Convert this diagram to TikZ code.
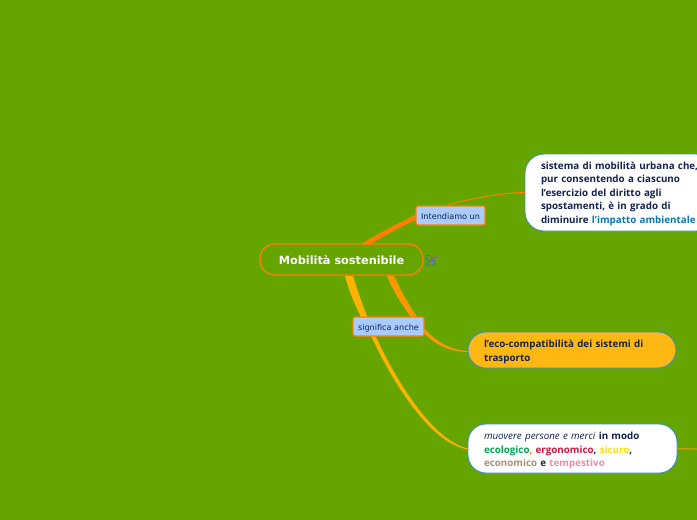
\documentclass[tikz,border=0pt]{standalone}
\usepackage{fontspec}
\setmainfont{Open Sans}
\newfontfamily\labelfont{DejaVu Sans}
\definecolor{bgc}{HTML}{66A500}
\definecolor{orgc}{HTML}{FF7F00}
\definecolor{org2}{HTML}{FF9800}
\definecolor{yelc}{HTML}{FFB300}
\definecolor{tbfill}{HTML}{FFB812}
\definecolor{olivec}{HTML}{C8A400}
\definecolor{lblue}{HTML}{A9CBFF}
\definecolor{nblue}{HTML}{3C8DC8}
\definecolor{navy}{HTML}{14234F}
\definecolor{lnkblue}{HTML}{0B78B4}
\definecolor{gr}{HTML}{00A651}
\definecolor{rd}{HTML}{D2123C}
\definecolor{ye}{HTML}{FFE000}
\definecolor{tan1}{HTML}{A98F6E}
\definecolor{pnk}{HTML}{F08CA0}
\definecolor{icona}{HTML}{4A6FC0}
\definecolor{iconb}{HTML}{A050C0}
\tikzset{
  x=1pt,y=-1pt,
  central/.style={draw=orgc,line width=1.3pt,rounded corners=15pt,minimum width=163pt,minimum height=31pt,inner sep=0pt,text=white,font=\labelfont\bfseries\fontsize{11.3}{14}\selectfont},
  lbl/.style={draw=orgc,fill=lblue,line width=1.1pt,rounded corners=2pt,inner sep=0pt,text=navy,font=\labelfont\fontsize{8.1}{10}\selectfont},
  topicbox/.style={draw=nblue,line width=0.9pt,inner sep=0pt,text=navy,align=left,font=\bfseries\fontsize{9.8}{13.6}\selectfont},
  thin conn/.style={line cap=round,fill=none}
}
\begin{document}
\begin{tikzpicture}
\useasboundingbox (0,0) rectangle (697,520);
\clip (0,0) rectangle (697,520);
\fill[bgc] (0,0) rectangle (697,520);
% tapered branches
\fill[orgc] (361,244) .. controls (377,234) and (397,224) .. (416,214.5) -- (418,219) .. controls (400,227) and (384,236) .. (369,245) -- cycle;
\fill[org2] (387,276) -- (394,276) .. controls (402,293) and (411,309) .. (420,321) -- (424,328) .. controls (436,342) and (450,350) .. (468,351) -- (468,352) .. controls (448,351.5) and (434,344) .. (422,331) -- (417,325) .. controls (406,310) and (395,296) .. (387,276) -- cycle;
\fill[yelc] (345,276) -- (353,276) .. controls (360,298) and (367,318) .. (376,337) .. controls (392,372) and (430,440) .. (468,448.5) -- (468,449.5) .. controls (428,443) and (390,376) .. (372,338) .. controls (360,316) and (351,298) .. (345,276) -- cycle;
% nodes
\node[central] (main) at (341.5,259.5) {\rule{0pt}{11pt}Mobilità sostenibile};
\node[lbl,minimum width=69pt,minimum height=19pt] (l1) at (450.5,215.5) {\rule{0pt}{8.5pt}Intendiamo un};
\node[lbl,minimum width=71pt,minimum height=19pt] (l2) at (388.5,326.5) {\rule{0pt}{10pt}significa anche};
\node[topicbox,fill=white,rounded corners=19pt,minimum width=190pt,minimum height=77pt,text width=158pt] (ta) at (620,192.5) {%
\rule{0pt}{10pt}sistema di mobilità urbana che,\\pur consentendo a ciascuno\\l'esercizio del diritto agli\\spostamenti, è in grado di\\diminuire \textcolor{lnkblue}{l'impatto ambientale}};
\node[topicbox,fill=tbfill,rounded corners=18pt,minimum width=208pt,minimum height=36pt,text width=176pt] (tb) at (572,350) {%
\rule{0pt}{11.5pt}l'eco-compatibilità dei sistemi di\\trasporto};
\node[topicbox,fill=white,rounded corners=18pt,minimum width=209pt,minimum height=49pt,text width=177pt] (tc) at (572.5,448.5) {%
\rule{0pt}{11.5pt}\textit{\mdseries muovere persone e merci} in modo\\\textcolor{gr}{ecologico}\textcolor{orgc}{,} \textcolor{rd}{ergonomico}, \textcolor{ye}{sicuro},\\\textcolor{tan1}{economico} e \textcolor{pnk}{tempestivo}};
% thin connectors
\coordinate (endc) at (697,449);
\draw[orgc,line width=1pt,thin conn] (l1.north) ++(-2,-1) .. controls (475,198) and (500,193) .. (ta.west);
\draw[olivec,line width=1.2pt,thin conn] (tc.east) -- (endc);
% icon
\begin{scope}[line width=0.8pt]
\draw[icona] (426,255.5) .. controls (431,254) and (434,258) .. (431,260) .. controls (427,261) and (425,258) .. (426,255.5);
\draw[icona] (426,265) .. controls (428,260) and (434,259) .. (435,262) .. controls (435,265) and (430,266) .. (426,265);
\draw[iconb] (429,262) -- (437,256.5);
\draw[iconb] (431,258) -- (437,257);
\end{scope}
\end{tikzpicture}
\end{document}
